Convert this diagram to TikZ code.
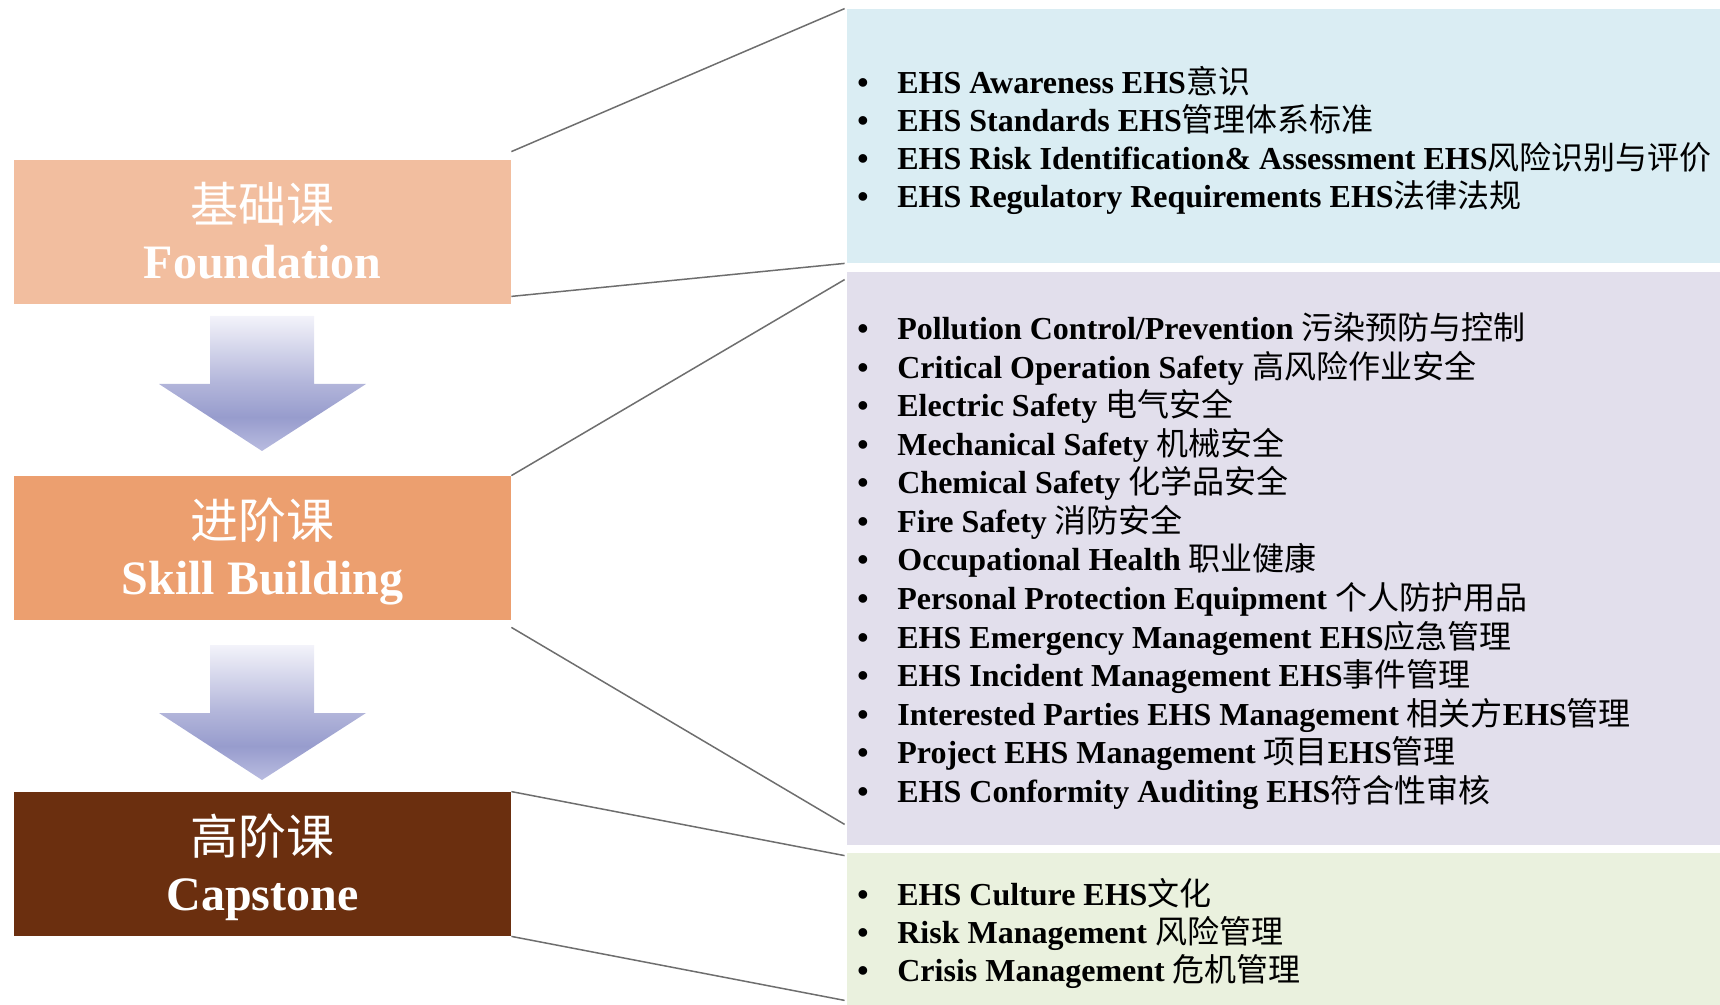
\documentclass[tikz,border=0pt]{standalone}
\usepackage{fontspec}
\setmainfont{Liberation Serif}
\newfontfamily\cjk{Noto Sans CJK SC}
\newcommand\zh[1]{{\cjk\mdseries #1}}
\definecolor{fndc}{HTML}{F2BE9F}
\definecolor{sklc}{HTML}{EC9F6F}
\definecolor{capc}{HTML}{6B2F0F}
\definecolor{bluec}{HTML}{DAEDF3}
\definecolor{purc}{HTML}{E2DFEC}
\definecolor{grnc}{HTML}{EAF1DE}
\definecolor{linec}{HTML}{6E6E6E}
\definecolor{arrtop}{HTML}{F3F3FA}
\definecolor{arrmid}{HTML}{B2B5DA}
\definecolor{arrdark}{HTML}{979CCD}
\definecolor{arrtip}{HTML}{B9BCE0}
\pgfdeclareverticalshading{arrowshade}{100bp}{color(0bp)=(arrtip); color(25bp)=(arrtip); color(37.5bp)=(arrdark); color(50bp)=(arrmid); color(75bp)=(arrtop); color(100bp)=(arrtop)}
\begin{document}
\begin{tikzpicture}[x=0.5pt,y=-0.5pt,
  lbox/.style={draw=none,inner sep=0pt,minimum width=248.5pt,minimum height=72pt},
  rbox/.style={draw=none,inner sep=0pt,minimum width=436.5pt},
  zhlab/.style={anchor=base,inner sep=0pt,text=white,font=\cjk\fontsize{24}{28}\selectfont},
  enlab/.style={anchor=base,inner sep=0pt,text=white,font=\fontsize{24}{28}\selectfont\bfseries},
  item/.style={anchor=base west,inner sep=0pt,font=\fontsize{16}{19}\selectfont\bfseries},
  conn/.style={draw=linec,line width=0.75pt}]
\useasboundingbox (0,0) rectangle (1720,1005);
% right boxes
\node[rbox,fill=bluec,minimum height=127pt] (blue) at (1283.5,136) {};
\node[rbox,fill=purc,minimum height=286.5pt] (pur) at (1283.5,558.5) {};
\node[rbox,fill=grnc,minimum height=76pt] (grn) at (1283.5,929) {};
% left boxes
\node[lbox,fill=fndc] (fnd) at (262.5,232) {};
\node[lbox,fill=sklc] (skl) at (262.5,548) {};
\node[lbox,fill=capc] (cap) at (262.5,864) {};
\node[zhlab] (fndzh) at ([yshift=-31.5pt]fnd.north) {基础课};
\node[enlab] (fnden) at ([yshift=-59.5pt]fnd.north) {Foundation};
\node[zhlab] (sklzh) at ([yshift=-31.5pt]skl.north) {进阶课};
\node[enlab] (sklen) at ([yshift=-59.5pt]skl.north) {Skill Building};
\node[zhlab] (capzh) at ([yshift=-31.5pt]cap.north) {高阶课};
\node[enlab] (capen) at ([yshift=-59.5pt]cap.north) {Capstone};
% arrows
\shade[shading=arrowshade] (210,316) -- (314,316) -- (314,384) -- (366,384) -- (262,451) -- (159,384) -- (210,384) -- cycle;
\shade[shading=arrowshade] (210,645) -- (314,645) -- (314,713) -- (366,713) -- (262,780) -- (159,713) -- (210,713) -- cycle;
% connectors
\draw[conn] ([yshift=4pt]fnd.north east) -- ([xshift=-1pt]blue.north west);
\draw[conn] ([yshift=4pt]fnd.south east) -- ([xshift=-1pt]blue.south west);
\draw[conn] (skl.north east) -- ([xshift=-1pt,yshift=-4pt]pur.north west);
\draw[conn] ([yshift=-3.5pt]skl.south east) -- ([xshift=-1pt,yshift=10.5pt]pur.south west);
\draw[conn] (cap.north east) -- ([xshift=-1pt,yshift=-1.5pt]grn.north west);
\draw[conn] (cap.south east) -- ([xshift=-1pt,yshift=2.5pt]grn.south west);
% lists
\newcommand\bul{\makebox[20pt][l]{•}}
\node[item] (b1) at (857,94) {\bul EHS Awareness EHS\zh{意识}};
\node[item] (b2) at (857,131.8) {\bul EHS Standards EHS\zh{管理体系标准}};
\node[item] (b3) at (857,169.6) {\bul EHS Risk Identification\& Assessment EHS\zh{风险识别与评价}};
\node[item] (b4) at (857,207.4) {\bul EHS Regulatory Requirements EHS\zh{法律法规}};
\node[item] (p1) at (857,340) {\bul Pollution Control/Prevention \zh{污染预防与控制}};
\node[item] (p2) at (857,378.5) {\bul Critical Operation Safety \zh{高风险作业安全}};
\node[item] (p3) at (857,417) {\bul Electric Safety \zh{电气安全}};
\node[item] (p4) at (857,455.5) {\bul Mechanical Safety \zh{机械安全}};
\node[item] (p5) at (857,494) {\bul Chemical Safety \zh{化学品安全}};
\node[item] (p6) at (857,532.5) {\bul Fire Safety \zh{消防安全}};
\node[item] (p7) at (857,571) {\bul Occupational Health \zh{职业健康}};
\node[item] (p8) at (857,609.5) {\bul Personal Protection Equipment \zh{个人防护用品}};
\node[item] (p9) at (857,648) {\bul EHS Emergency Management EHS\zh{应急管理}};
\node[item] (p10) at (857,686.5) {\bul EHS Incident Management EHS\zh{事件管理}};
\node[item] (p11) at (857,725) {\bul Interested Parties EHS Management \zh{相关方}EHS\zh{管理}};
\node[item] (p12) at (857,763.5) {\bul Project EHS Management \zh{项目}EHS\zh{管理}};
\node[item] (p13) at (857,802) {\bul EHS Conformity Auditing EHS\zh{符合性审核}};
\node[item] (g1) at (857,905) {\bul EHS Culture EHS\zh{文化}};
\node[item] (g2) at (857,943) {\bul Risk Management \zh{风险管理}};
\node[item] (g3) at (857,981) {\bul Crisis Management \zh{危机管理}};
\end{tikzpicture}
\end{document}
